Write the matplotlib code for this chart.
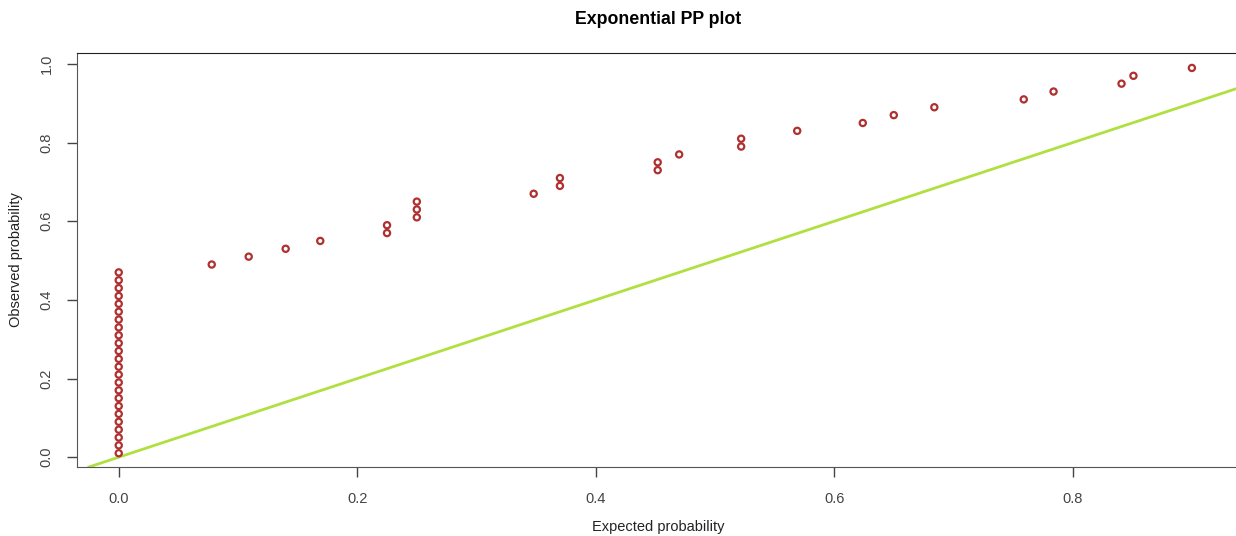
import numpy as np
import matplotlib
matplotlib.use('Agg')
import matplotlib.pyplot as plt

plt.rcParams['font.family'] = ['Liberation Sans', 'DejaVu Sans']

# expected (model) probability and observed (empirical) probability
expected = [0.0] * 24 + [0.078, 0.109, 0.140, 0.169, 0.225, 0.225, 0.250, 0.250, 0.250,
                         0.348, 0.370, 0.370, 0.452, 0.452, 0.470, 0.522, 0.522, 0.569,
                         0.624, 0.650, 0.684, 0.759, 0.784, 0.841, 0.851, 0.900]
observed = [0.01, 0.03, 0.05, 0.07, 0.09, 0.11, 0.13, 0.15, 0.17, 0.19, 0.21, 0.23,
            0.25, 0.27, 0.29, 0.31, 0.33, 0.35, 0.37, 0.39, 0.41, 0.43, 0.45, 0.47,
            0.49, 0.51, 0.53, 0.55, 0.57, 0.59, 0.61, 0.63, 0.65, 0.67, 0.69, 0.71,
            0.73, 0.75, 0.77, 0.79, 0.81, 0.83, 0.85, 0.87, 0.89, 0.91, 0.93, 0.95,
            0.97, 0.99]
xticks = [0.0, 0.2, 0.4, 0.6, 0.8]
yticks = [0.0, 0.2, 0.4, 0.6, 0.8, 1.0]

fig = plt.figure(figsize=(12.36, 5.36), dpi=100)
ax = fig.add_axes([77/1236, 1 - 467/536, 1 - 77/1236, (467 - 53)/536])

ax.scatter(expected, observed, s=20, facecolors='none', edgecolors='#b03030', linewidths=1.6, zorder=3)
ax.axline((0, 0), slope=1, color='#b0e040', lw=2, zorder=2)

ax.set_xlim(-0.035, 0.937)
ax.set_ylim(-0.025, 1.028)
ax.set_xticks(xticks)
ax.set_yticks(yticks)
ax.set_xticklabels([f'{t:.1f}' for t in xticks])
ax.set_yticklabels([f'{t:.1f}' for t in yticks], rotation=90, va='center')
ax.tick_params(direction='out', length=7, width=1, labelsize=10.5, colors='#444444', pad=10)
ax.tick_params(axis='x', pad=11)
for s in ['left', 'bottom']:
    ax.spines[s].set_color('#555555')
ax.spines['top'].set_color('#222222')
ax.spines['right'].set_visible(False)

fig.text(658/1236, 1 - 19/536, 'Exponential PP plot', ha='center', va='center', fontsize=12.8, fontweight='bold')
fig.text(658/1236, 1 - 527/536, 'Expected probability', ha='center', va='center', fontsize=10.5, color='#222222')
fig.text(16/1236, 1 - 260/536, 'Observed probability', ha='center', va='center', rotation=90, fontsize=10.5, color='#222222')

fig.savefig('out.png', dpi=100)
